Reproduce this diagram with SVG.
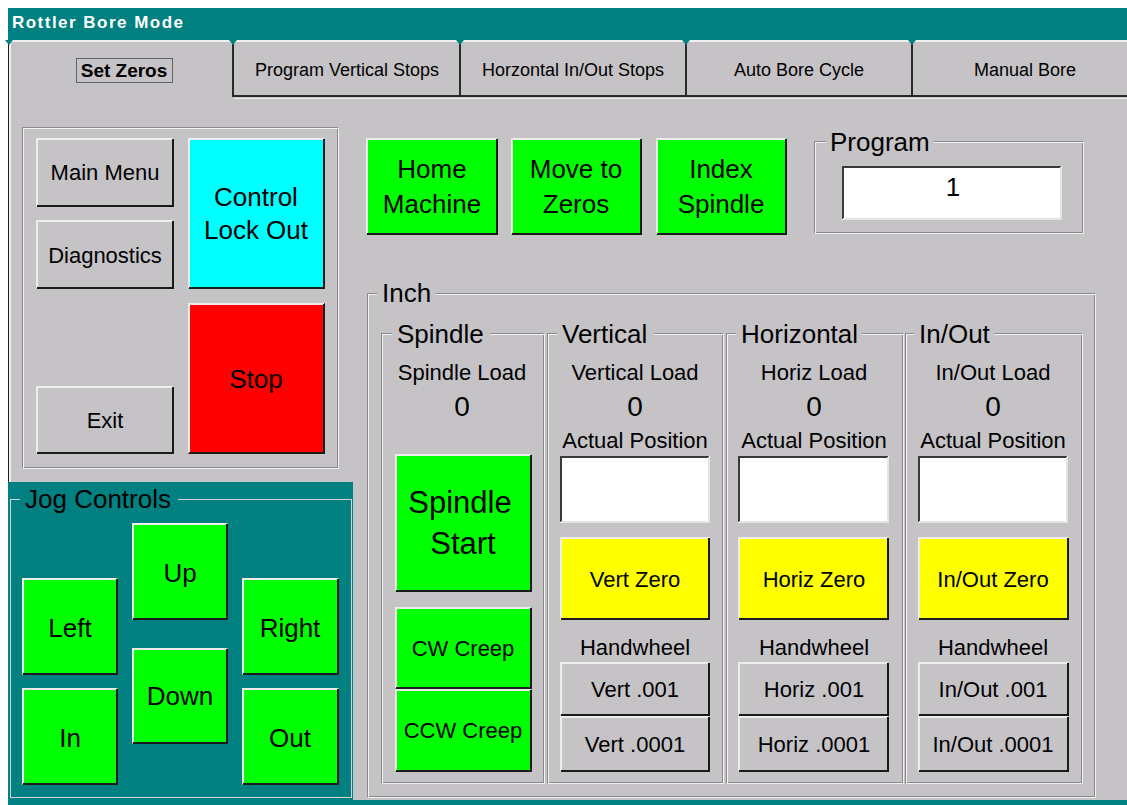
<svg xmlns="http://www.w3.org/2000/svg" width="1127" height="805" viewBox="0 0 1127 805">
<style>
.f{font-family:"Liberation Sans",Arial,Helvetica,sans-serif;fill:#000;text-anchor:middle}
.st{text-anchor:start}
.s18{font-size:18px}.s22{font-size:22px}.s26{font-size:26px}.s28{font-size:28px}.s31{font-size:31px}
.hl{fill:none;stroke:#EDEDED;stroke-width:2}
.sh{fill:none;stroke:#1A1A1A;stroke-width:2}
.dk{fill:none;stroke:#3A3A3A;stroke-width:2}
.lt{fill:none;stroke:#E4E4E4;stroke-width:2}
.gd{fill:none;stroke:#8A888C;stroke-width:1}
.gl{fill:none;stroke:#F2F2F2;stroke-width:1}
.bg{fill:#C6C3C7}
.teal{fill:#008080}
.grey{fill:#C6C3C7}
.green{fill:#00FF00}
.yellow{fill:#FFFF00}
.white{fill:#FFFFFF}
</style>
<defs>
<polygon id="notch" points="-4,40 4,40 0,45" fill="#008080"/>
</defs>
<rect x="0" y="0" width="1127" height="805" fill="#FFFFFF"/>
<!-- title bar -->
<g id="titlebar">
<rect x="8" y="8" width="1119" height="32" class="teal"/>
<text x="12" y="28" class="f st" style="font-size:17px;font-weight:bold;fill:#FFFFFF" textLength="171" lengthAdjust="spacing">Rottler Bore Mode</text>
</g>
<!-- body -->
<rect x="8" y="40" width="1119" height="760" class="bg"/>
<rect x="8" y="800" width="1119" height="5" class="teal"/>
<!-- tabs -->
<g id="tabs">
<path d="M10,800V41H1127" stroke="#F0F0F0" stroke-width="2" fill="none"/>
<path d="M8.5,40V805" stroke="#202020" stroke-width="1" fill="none"/>
<path d="M233,96H1127" stroke="#2A2A2A" stroke-width="2" fill="none"/>
<path d="M234,98.5H1127" stroke="#F0F0F0" stroke-width="1" fill="none"/>
<path d="M233,42V97M460,42V97M686,42V97M912,42V97" stroke="#2A2A2A" stroke-width="2" fill="none"/>
<use href="#notch" x="9"/><use href="#notch" x="233"/><use href="#notch" x="460"/><use href="#notch" x="686"/><use href="#notch" x="912"/>
<rect x="76.5" y="58.5" width="96" height="24" fill="none" stroke="#000" stroke-width="1" stroke-dasharray="1,1"/>
<text x="124" y="77" class="f" style="font-size:19px;font-weight:bold">Set Zeros</text>
<text x="347" y="76" class="f s18">Program Vertical Stops</text>
<text x="573" y="76" class="f s18">Horzontal In/Out Stops</text>
<text x="799" y="76" class="f s18">Auto Bore Cycle</text>
<text x="1025" y="76" class="f s18">Manual Bore</text>
</g>
<!-- left group -->
<g id="leftgroup">
<rect x="22.5" y="127.5" width="315" height="340" class="gd"/>
<rect x="23.5" y="128.5" width="315" height="340" class="gl"/>
</g>
<g id="btn-mainmenu"><rect x="36" y="138" width="138" height="69" class="grey"/><path d="M37,206V139H173" class="hl"/><path d="M173,139V206H37" class="sh"/><text x="105" y="180" class="f s22">Main Menu</text></g>
<g id="btn-diagnostics"><rect x="36" y="220" width="138" height="69" class="grey"/><path d="M37,288V221H173" class="hl"/><path d="M173,221V288H37" class="sh"/><text x="105" y="263" class="f s22">Diagnostics</text></g>
<g id="btn-exit"><rect x="36" y="386" width="138" height="68" class="grey"/><path d="M37,453V387H173" class="hl"/><path d="M173,387V453H37" class="sh"/><text x="105" y="428" class="f s22">Exit</text></g>
<g id="btn-lockout"><rect x="188" y="138" width="137" height="151" fill="#00FFFF"/><path d="M189,288V139H324" class="hl"/><path d="M324,139V288H189" class="sh"/><text x="256" y="206" class="f s26">Control</text><text x="256" y="239" class="f s26">Lock Out</text></g>
<g id="btn-stop"><rect x="188" y="303" width="137" height="151" fill="#FF0000"/><path d="M189,453V304H324" class="hl"/><path d="M324,304V453H189" class="sh"/><text x="256" y="388" class="f s26">Stop</text></g>
<!-- jog controls -->
<g id="jog">
<rect x="8" y="482" width="345" height="323" class="teal"/>
<rect x="10.5" y="499.5" width="341" height="298" fill="none" stroke="#D4D2D6" stroke-width="1"/>
<rect x="20" y="490" width="158" height="20" class="teal"/>
<text x="25" y="508" class="f st s26">Jog Controls</text>
</g>
<g id="btn-up"><rect x="132" y="523" width="96" height="97" class="green"/><path d="M133,619V524H227" class="hl"/><path d="M227,524V619H133" class="sh"/><text x="180" y="582" class="f s26">Up</text></g>
<g id="btn-left"><rect x="22" y="578" width="96" height="97" class="green"/><path d="M23,674V579H117" class="hl"/><path d="M117,579V674H23" class="sh"/><text x="70" y="637" class="f s26">Left</text></g>
<g id="btn-right"><rect x="242" y="578" width="97" height="97" class="green"/><path d="M243,674V579H338" class="hl"/><path d="M338,579V674H243" class="sh"/><text x="290" y="637" class="f s26">Right</text></g>
<g id="btn-down"><rect x="132" y="648" width="96" height="96" class="green"/><path d="M133,743V649H227" class="hl"/><path d="M227,649V743H133" class="sh"/><text x="180" y="705" class="f s26">Down</text></g>
<g id="btn-in"><rect x="22" y="688" width="96" height="97" class="green"/><path d="M23,784V689H117" class="hl"/><path d="M117,689V784H23" class="sh"/><text x="70" y="747" class="f s26">In</text></g>
<g id="btn-out"><rect x="242" y="688" width="97" height="97" class="green"/><path d="M243,784V689H338" class="hl"/><path d="M338,689V784H243" class="sh"/><text x="290" y="747" class="f s26">Out</text></g>
<!-- top green -->
<g id="btn-home"><rect x="366" y="138" width="132" height="97" class="green"/><path d="M367,234V139H497" class="hl"/><path d="M497,139V234H367" class="sh"/><text x="432" y="178" class="f s26">Home</text><text x="432" y="213" class="f s26">Machine</text></g>
<g id="btn-movezeros"><rect x="511" y="138" width="131" height="97" class="green"/><path d="M512,234V139H641" class="hl"/><path d="M641,139V234H512" class="sh"/><text x="576" y="178" class="f s26">Move to</text><text x="576" y="213" class="f s26">Zeros</text></g>
<g id="btn-index"><rect x="656" y="138" width="131" height="97" class="green"/><path d="M657,234V139H786" class="hl"/><path d="M786,139V234H657" class="sh"/><text x="721" y="178" class="f s26">Index</text><text x="721" y="213" class="f s26">Spindle</text></g>
<!-- program -->
<g id="program">
<rect x="814.5" y="141.5" width="268" height="91" class="gd"/>
<rect x="815.5" y="142.5" width="268" height="91" class="gl"/>
<rect x="826" y="136" width="108" height="11" class="bg"/>
<text x="830" y="151" class="f st s26">Program</text>
<rect x="842" y="166" width="220" height="54" class="white"/>
<path d="M843,219V167H1061" class="dk"/><path d="M1061,167V219H843" class="lt"/>
<text x="953" y="196" class="f s26">1</text>
</g>
<!-- inch -->
<g id="inch">
<rect x="367.5" y="293.5" width="727" height="503" class="gd"/>
<rect x="368.5" y="294.5" width="727" height="503" class="gl"/>
<rect x="377" y="288" width="59" height="11" class="bg"/>
<text x="382" y="302" class="f st s26">Inch</text>
</g>
<!-- spindle column -->
<g id="spindle">
<rect x="381.5" y="333.5" width="162" height="449" class="gd"/>
<rect x="382.5" y="334.5" width="162" height="449" class="gl"/>
<rect x="392" y="328" width="98" height="11" class="bg"/>
<text x="397" y="343" class="f st s26">Spindle</text>
<text x="462" y="380" class="f s22">Spindle Load</text>
<text x="462" y="416" class="f s28">0</text>
</g>
<g id="btn-spindlestart"><rect x="395" y="454" width="137" height="138" class="green"/><path d="M396,591V455H531" class="hl"/><path d="M531,455V591H396" class="sh"/><text x="460" y="513" class="f s31">Spindle</text><text x="463" y="554" class="f s31">Start</text></g>
<g id="btn-cw"><rect x="395" y="607" width="137" height="82" class="green"/><path d="M396,688V608H531" class="hl"/><path d="M531,608V688H396" class="sh"/><text x="463" y="656" class="f s22">CW Creep</text></g>
<g id="btn-ccw"><rect x="395" y="689" width="137" height="83" class="green"/><path d="M396,771V690H531" class="hl"/><path d="M531,690V771H396" class="sh"/><text x="463" y="738" class="f s22">CCW Creep</text></g>
<!-- vertical column -->
<g id="vertical">
<rect x="547.5" y="333.5" width="175" height="449" class="gd"/>
<rect x="548.5" y="334.5" width="175" height="449" class="gl"/>
<rect x="557" y="328" width="97" height="11" class="bg"/>
<text x="562" y="343" class="f st s26">Vertical</text>
<text x="635" y="380" class="f s22">Vertical Load</text>
<text x="635" y="416" class="f s28">0</text>
<text x="635" y="448" class="f s22">Actual Position</text>
<rect x="560" y="456" width="150" height="67" class="white"/>
<path d="M561,522V457H709" class="dk"/><path d="M709,457V522H561" class="lt"/>
<text x="635" y="655" class="f s22">Handwheel</text>
</g>
<g id="btn-vertzero"><rect x="560" y="537" width="150" height="83" class="yellow"/><path d="M561,619V538H709" class="hl"/><path d="M709,538V619H561" class="sh"/><text x="635" y="587" class="f s22">Vert Zero</text></g>
<g id="btn-vert001"><rect x="560" y="662" width="150" height="54" class="grey"/><path d="M561,715V663H709" class="hl"/><path d="M709,663V715H561" class="sh"/><text x="635" y="697" class="f s22">Vert .001</text></g>
<g id="btn-vert0001"><rect x="560" y="716" width="150" height="56" class="grey"/><path d="M561,771V717H709" class="hl"/><path d="M709,717V771H561" class="sh"/><text x="635" y="752" class="f s22">Vert .0001</text></g>
<!-- horizontal column -->
<g id="horizontal">
<rect x="726.5" y="333.5" width="176" height="449" class="gd"/>
<rect x="727.5" y="334.5" width="176" height="449" class="gl"/>
<rect x="736" y="328" width="126" height="11" class="bg"/>
<text x="741" y="343" class="f st s26">Horizontal</text>
<text x="814" y="380" class="f s22">Horiz Load</text>
<text x="814" y="416" class="f s28">0</text>
<text x="814" y="448" class="f s22">Actual Position</text>
<rect x="738" y="456" width="151" height="67" class="white"/>
<path d="M739,522V457H888" class="dk"/><path d="M888,457V522H739" class="lt"/>
<text x="814" y="655" class="f s22">Handwheel</text>
</g>
<g id="btn-horizzero"><rect x="738" y="537" width="151" height="83" class="yellow"/><path d="M739,619V538H888" class="hl"/><path d="M888,538V619H739" class="sh"/><text x="814" y="587" class="f s22">Horiz Zero</text></g>
<g id="btn-horiz001"><rect x="738" y="662" width="151" height="54" class="grey"/><path d="M739,715V663H888" class="hl"/><path d="M888,663V715H739" class="sh"/><text x="814" y="697" class="f s22">Horiz .001</text></g>
<g id="btn-horiz0001"><rect x="738" y="716" width="151" height="56" class="grey"/><path d="M739,771V717H888" class="hl"/><path d="M888,717V771H739" class="sh"/><text x="814" y="752" class="f s22">Horiz .0001</text></g>
<!-- in/out column -->
<g id="inout">
<rect x="905.5" y="333.5" width="176" height="449" class="gd"/>
<rect x="906.5" y="334.5" width="176" height="449" class="gl"/>
<rect x="914" y="328" width="80" height="11" class="bg"/>
<text x="919" y="343" class="f st s26">In/Out</text>
<text x="993" y="380" class="f s22">In/Out Load</text>
<text x="993" y="416" class="f s28">0</text>
<text x="993" y="448" class="f s22">Actual Position</text>
<rect x="918" y="456" width="150" height="67" class="white"/>
<path d="M919,522V457H1067" class="dk"/><path d="M1067,457V522H919" class="lt"/>
<text x="993" y="655" class="f s22">Handwheel</text>
</g>
<g id="btn-inoutzero"><rect x="918" y="537" width="151" height="83" class="yellow"/><path d="M919,619V538H1068" class="hl"/><path d="M1068,538V619H919" class="sh"/><text x="993" y="587" class="f s22">In/Out Zero</text></g>
<g id="btn-inout001"><rect x="918" y="662" width="151" height="54" class="grey"/><path d="M919,715V663H1068" class="hl"/><path d="M1068,663V715H919" class="sh"/><text x="993" y="697" class="f s22">In/Out .001</text></g>
<g id="btn-inout0001"><rect x="918" y="716" width="151" height="56" class="grey"/><path d="M919,771V717H1068" class="hl"/><path d="M1068,717V771H919" class="sh"/><text x="993" y="752" class="f s22">In/Out .0001</text></g>
<g id="connectors"></g>
</svg>
